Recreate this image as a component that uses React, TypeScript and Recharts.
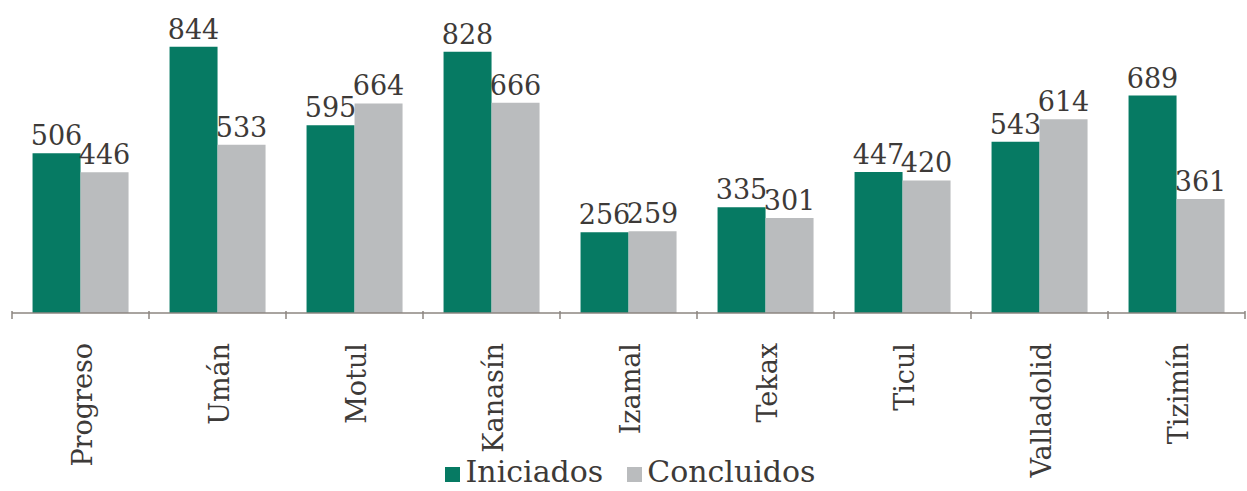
import { Bar, BarChart, LabelList, Legend, XAxis, YAxis } from "recharts";

const municipios = ["Progreso", "Umán", "Motul", "Kanasín", "Izamal", "Tekax", "Ticul", "Valladolid", "Tizimín"];
const iniciados = [506, 844, 595, 828, 256, 335, 447, 543, 689];
const concluidos = [446, 533, 664, 666, 259, 301, 420, 614, 361];
const yDomain = [0, 900];

const series = [
  { key: "iniciados", name: "Iniciados", color: "#067a63" },
  { key: "concluidos", name: "Concluidos", color: "#babcbe" },
];

const data = municipios.map((name, i) => ({ name, iniciados: iniciados[i], concluidos: concluidos[i] }));

const font = "'DejaVu Serif', serif";
const textColor = "#3d3a38";
const axisColor = "#8c8680";
const halfBand = 1233 / municipios.length / 2;

if (typeof document !== "undefined") document.body.style.margin = "0";

function CategoryTick(props: any) {
  const { x, y, payload, index } = props;
  return (
    <g transform={`translate(${x},${y})`}>
      <line x1={-halfBand} x2={-halfBand} y1={-10} y2={-2} stroke={axisColor} strokeWidth={1.5} />
      {index === municipios.length - 1 && (
        <line x1={halfBand} x2={halfBand} y1={-10} y2={-2} stroke={axisColor} strokeWidth={1.5} />
      )}
      <text
        transform="rotate(-90)"
        x={-22}
        y={2}
        dy="0.35em"
        textAnchor="end"
        fill={textColor}
        fontSize={27}
        fontFamily={font}
      >
        {payload.value}
      </text>
    </g>
  );
}

function LegendBox() {
  return (
    <div style={{ display: "flex", justifyContent: "center", gap: 24, fontFamily: font, fontSize: 30, color: textColor, lineHeight: "30px", paddingLeft: 4 }}>
      {series.map((s) => (
        <span key={s.key} style={{ display: "flex", alignItems: "center", gap: 5 }}>
          <span style={{ width: 15, height: 15, background: s.color, display: "inline-block", marginTop: 4 }} />
          {s.name}
        </span>
      ))}
    </div>
  );
}

export default function App() {
  return (
    <BarChart
      width={1247}
      height={491}
      data={data}
      margin={{ top: 29, right: 2, left: 12, bottom: 4 }}
      barCategoryGap="15%"
      barGap={0}
    >
      <XAxis
        dataKey="name"
        interval={0}
        height={144}
        tickLine={false}
        axisLine={{ stroke: axisColor, strokeWidth: 1.5 }}
        tick={<CategoryTick />}
      />
      <YAxis hide domain={yDomain} />
      <Legend verticalAlign="bottom" height={30} content={<LegendBox />} />
      {series.map((s) => (
        <Bar key={s.key} dataKey={s.key} name={s.name} fill={s.color} isAnimationActive={false}>
          <LabelList dataKey={s.key} position="top" offset={8} fill={textColor} fontSize={27} fontFamily={font} />
        </Bar>
      ))}
    </BarChart>
  );
}
